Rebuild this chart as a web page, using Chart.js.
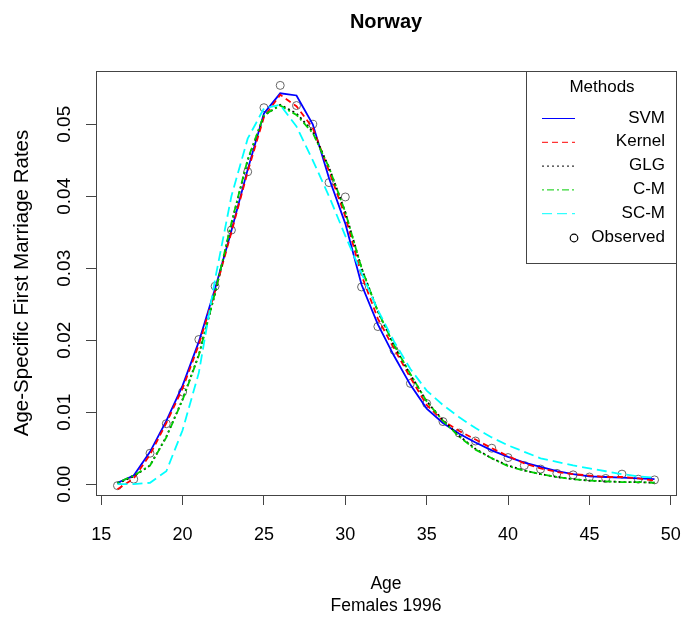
<!DOCTYPE html>
<html>
<head>
  <title>Norway</title>
  <script src="https://cdn.jsdelivr.net/npm/chart.js"></script>
  <style>
    body { margin: 0; background: #fff; }
    #marriageChart { display: block; }
  </style>
</head>
<body>
  <canvas id="marriageChart" width="696" height="620"></canvas>

  <script>
    // ages 16..49
    const ages = [16, 17, 18, 19, 20, 21, 22, 23, 24, 25, 26, 27, 28, 29, 30, 31, 32,
                  33, 34, 35, 36, 37, 38, 39, 40, 41, 42, 43, 44, 45, 46, 47, 48, 49];

    const observed = [-0.0002, 0.0007, 0.0043, 0.0084, 0.0128, 0.0201, 0.0275, 0.0353, 0.0434, 0.0523, 0.0554, 0.0526,
                      0.0500, 0.0419, 0.0399, 0.0274, 0.0219, 0.0186, 0.0140, 0.0112, 0.0087, 0.0071, 0.0060, 0.0050,
                      0.0037, 0.0026, 0.0021, 0.0015, 0.0013, 0.0010, 0.0008, 0.0014, 0.0007, 0.0006];
    const svm = [0.0002, 0.0012, 0.0045, 0.0088, 0.0137, 0.0198, 0.0272, 0.0352, 0.0437, 0.0515, 0.0543, 0.0540,
                 0.0500, 0.0425, 0.0362, 0.0277, 0.0222, 0.0178, 0.0138, 0.0105, 0.0085, 0.0070, 0.0058, 0.0047,
                 0.0038, 0.0030, 0.0024, 0.0018, 0.0014, 0.0011, 0.0010, 0.0009, 0.0008, 0.0007];
    const kernel = [-0.0007, 0.0008, 0.0041, 0.0085, 0.0133, 0.0194, 0.0268, 0.0350, 0.0434, 0.0510, 0.0541, 0.0525,
                    0.0495, 0.0435, 0.0372, 0.0290, 0.0230, 0.0188, 0.0148, 0.0110, 0.0088, 0.0074, 0.0062, 0.0050,
                    0.0039, 0.0029, 0.0022, 0.0017, 0.0014, 0.0012, 0.0010, 0.0010, 0.0008, 0.0005];
    const glg = [0.0001, 0.0011, 0.0026, 0.0066, 0.0118, 0.0180, 0.0265, 0.0362, 0.0450, 0.0512, 0.0527, 0.0515,
                 0.0490, 0.0440, 0.0378, 0.0300, 0.0240, 0.0192, 0.0152, 0.0115, 0.0089, 0.0067, 0.0049, 0.0036,
                 0.0026, 0.0019, 0.0014, 0.0010, 0.0007, 0.0005, 0.0004, 0.0003, 0.0003, 0.0002];
    const cm = [0.0002, 0.0012, 0.0026, 0.0065, 0.0117, 0.0179, 0.0266, 0.0363, 0.0451, 0.0513, 0.0526, 0.0513,
                0.0488, 0.0440, 0.0378, 0.0300, 0.0240, 0.0193, 0.0153, 0.0115, 0.0088, 0.0066, 0.0048, 0.0036,
                0.0025, 0.0019, 0.0014, 0.0010, 0.0007, 0.0005, 0.0004, 0.0003, 0.0003, 0.0002];
    const scm = [0.0000, 0.0000, 0.0002, 0.0018, 0.0075, 0.0155, 0.0285, 0.0400, 0.0480, 0.0522, 0.0527, 0.0497,
                 0.0450, 0.0400, 0.0345, 0.0293, 0.0242, 0.0198, 0.0160, 0.0130, 0.0110, 0.0093, 0.0078, 0.0065,
                 0.0054, 0.0045, 0.0036, 0.0031, 0.0026, 0.0022, 0.0018, 0.0014, 0.0011, 0.0009];

    const xTicks = [15, 20, 25, 30, 35, 40, 45, 50];
    const yTicks = [0, 0.01, 0.02, 0.03, 0.04, 0.05];

    const FONT = "'Liberation Sans', Arial, sans-serif";
    const AXIS = '#444';

    const pts = arr => ages.map((a, i) => ({ x: a, y: arr[i] }));

    function curve(label, arr, color, dash, order) {
      return {
        label: label, data: pts(arr), borderColor: color, backgroundColor: color,
        borderWidth: 1.8, borderDash: dash, pointRadius: 0, tension: 0, fill: false, order: order
      };
    }

    // R-style box round the plot and the "Methods" legend in its top right corner
    const rBox = {
      id: 'rBox',
      afterDraw(chart) {
        const { ctx, chartArea: a } = chart;
        ctx.save();
        ctx.strokeStyle = AXIS;
        ctx.lineWidth = 1;
        ctx.strokeRect(Math.round(a.left) + 0.5, Math.round(a.top) + 0.5,
                       Math.round(a.right - a.left), Math.round(a.bottom - a.top));

        const w = 150, h = 192;
        const lx = Math.round(a.right) - w, ly = Math.round(a.top);
        ctx.fillStyle = '#fff';
        ctx.fillRect(lx, ly, w, h);
        ctx.strokeRect(lx + 0.5, ly + 0.5, w, h);

        ctx.fillStyle = '#000';
        ctx.font = '17px ' + FONT;
        ctx.textAlign = 'center';
        ctx.textBaseline = 'middle';
        ctx.fillText('Methods', lx + 76, ly + 16);

        chart.data.datasets.forEach((ds, i) => {
          const y = ly + 47 + i * 23.8;
          if (ds.showLine === false) {
            ctx.strokeStyle = '#000';
            ctx.lineWidth = 1.2;
            ctx.setLineDash([]);
            ctx.beginPath();
            ctx.arc(lx + 48, y + 1, 3.8, 0, Math.PI * 2);
            ctx.stroke();
          } else {
            ctx.strokeStyle = ds.borderColor;
            ctx.lineWidth = 1;
            ctx.setLineDash(ds.borderDash || []);
            ctx.beginPath();
            ctx.moveTo(lx + 16, y + 0.5);
            ctx.lineTo(lx + 49, y + 0.5);
            ctx.stroke();
          }
          ctx.setLineDash([]);
          ctx.fillStyle = '#000';
          ctx.textAlign = 'right';
          ctx.fillText(ds.label, lx + 139, y);
        });
        ctx.restore();
      }
    };

    const ctx = document.getElementById('marriageChart').getContext('2d');
    new Chart(ctx, {
      type: 'line',
      data: {
        datasets: [
          curve('SVM', svm, '#0000FF', [], 5),
          curve('Kernel', kernel, '#FF0000', [6, 4], 4),
          curve('GLG', glg, '#000000', [2, 3], 3),
          curve('C-M', cm, '#00CD00', [2, 3, 7, 3], 2),
          curve('SC-M', scm, '#00FFFF', [10, 5], 1),
          {
            label: 'Observed', data: pts(observed), showLine: false,
            pointStyle: 'circle', pointRadius: 4, pointBorderWidth: 1,
            pointBorderColor: '#666', pointBackgroundColor: 'rgba(0,0,0,0)', order: 6
          }
        ]
      },
      options: {
        responsive: false,
        animation: false,
        layout: { padding: { left: 0, right: 20, top: 0, bottom: 0 } },
        plugins: {
          legend: { display: false },
          tooltip: { enabled: false },
          title: {
            display: true, text: 'Norway', fullSize: false, color: '#000',
            font: { family: FONT, size: 20, weight: 'bold', lineHeight: 1.2 },
            padding: { top: 10, bottom: 37 }
          }
        },
        scales: {
          x: {
            type: 'linear', min: 14.68, max: 50.32,
            afterBuildTicks: s => { s.ticks = xTicks.map(v => ({ value: v })); },
            afterFit: s => { s.height = 125; s.paddingLeft = 0; s.paddingRight = 0; },
            ticks: { color: '#000', font: { family: FONT, size: 18 }, padding: 19, autoSkip: false, maxRotation: 0 },
            grid: { drawOnChartArea: false, drawTicks: true, tickLength: 10, color: AXIS },
            border: { display: true, color: AXIS },
            title: {
              display: true, text: ['Age', 'Females 1996'], color: '#000',
              font: { family: FONT, size: 17.5, lineHeight: 1.3 }, padding: { top: 0, bottom: 2 }
            }
          },
          y: {
            type: 'linear', min: -0.0015, max: 0.0574,
            afterBuildTicks: s => { s.ticks = yTicks.map(v => ({ value: v })); },
            afterFit: s => { s.width = 96; },
            ticks: {
              color: '#000', font: { family: FONT, size: 19 }, padding: 3, autoSkip: false,
              minRotation: 90, maxRotation: 90, crossAlign: 'center',
              callback: v => v.toFixed(2)
            },
            grid: { drawOnChartArea: false, drawTicks: true, tickLength: 10, color: AXIS },
            border: { display: true, color: AXIS },
            title: {
              display: true, text: 'Age-Specific First Marriage Rates', color: '#000',
              font: { family: FONT, size: 20.5, lineHeight: 1.2 }, padding: { top: 10, bottom: 0 }
            }
          }
        }
      },
      plugins: [rBox]
    });
  </script>
</body>
</html>
